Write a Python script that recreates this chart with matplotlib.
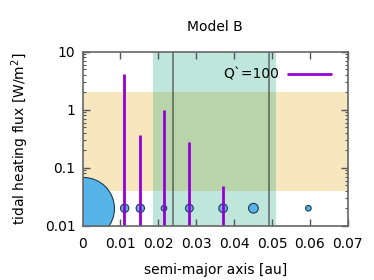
import matplotlib
matplotlib.use("Agg")
import matplotlib.pyplot as plt
from matplotlib.ticker import LogLocator, NullFormatter

# Data
planet_a = [0.01113, 0.01525, 0.0215, 0.0282, 0.0371, 0.0451, 0.0596]
planet_size = [6.0, 6.0, 4.0, 5.6, 6.2, 7.0, 4.0]
planet_y = 0.02
flux_a = [0.01105, 0.0152, 0.0214, 0.0282, 0.0371]
flux = [4.2, 0.36, 1.0, 0.28, 0.048]
hz_green = (0.0186, 0.0511)
hz_yellow = (0.04, 2.0)
hz_lines = [0.0240, 0.0491]
xticks = [0, 0.01, 0.02, 0.03, 0.04, 0.05, 0.06, 0.07]
xticklabels = ["0", "0.01", "0.02", "0.03", "0.04", "0.05", "0.06", "0.07"]
yticks = [0.01, 0.1, 1, 10]
yticklabels = ["0.01", "0.1", "1", "10"]

fig = plt.figure(figsize=(3.74, 2.80), dpi=100)
ax = fig.add_axes([82.5/374, 1-225.7/280, (347.8-82.5)/374, (225.7-51.7)/280])
ax.set_xlim(0, 0.07)
ax.set_yscale("log")
ax.set_ylim(0.01, 10)

ax.axhspan(hz_yellow[0], hz_yellow[1], color="#E69F00", alpha=0.25, lw=0, zorder=1)
ax.axvspan(hz_green[0], hz_green[1], color="#009E73", alpha=0.25, lw=0, zorder=1)
for xv in hz_lines:
    ax.axvline(xv, color="#333333", alpha=0.7, lw=1.1, zorder=2)

# star
ax.plot([0], [planet_y], "o", ms=44.6, mfc="#56B4E9", mec="#1a3a50", mew=0.8, zorder=3, clip_on=True)
ax.scatter(planet_a, [planet_y]*len(planet_a), s=[s**2 for s in planet_size],
           c="#56B4E9", edgecolors="#1a3a50", linewidths=0.8, zorder=4)
ax.vlines(flux_a, 0.01, flux, color="#9400D3", lw=2.0, zorder=5, label="Q`=100")

ax.set_xticks(xticks)
ax.set_xticklabels(xticklabels)
ax.set_yticks(yticks)
ax.set_yticklabels(yticklabels)
ax.yaxis.set_minor_locator(LogLocator(base=10, subs=range(2, 10)))
ax.yaxis.set_minor_formatter(NullFormatter())
ax.tick_params(axis="both", which="both", direction="in", top=True, right=True,
               labelsize=10, color="#555555", pad=8)
ax.tick_params(axis="both", which="major", length=5, width=1)
ax.tick_params(axis="both", which="minor", length=2.5, width=0.8)
ax.tick_params(axis="y", pad=5)
for s in ax.spines.values():
    s.set_color("#666666")
    s.set_linewidth(1.2)
    s.set_zorder(6)

leg = ax.legend(loc="upper right", frameon=False, fontsize=10, markerfirst=False,
                handlelength=3.2, borderaxespad=0.75, handletextpad=0.6)

ax.set_title("Model B", fontsize=10, pad=15)
ax.set_xlabel("semi-major axis [au]", fontsize=10, labelpad=9)
ax.set_ylabel("tidal heating flux [W/m$^2$]", fontsize=10, labelpad=10)

fig.savefig("out.png", dpi=100)
